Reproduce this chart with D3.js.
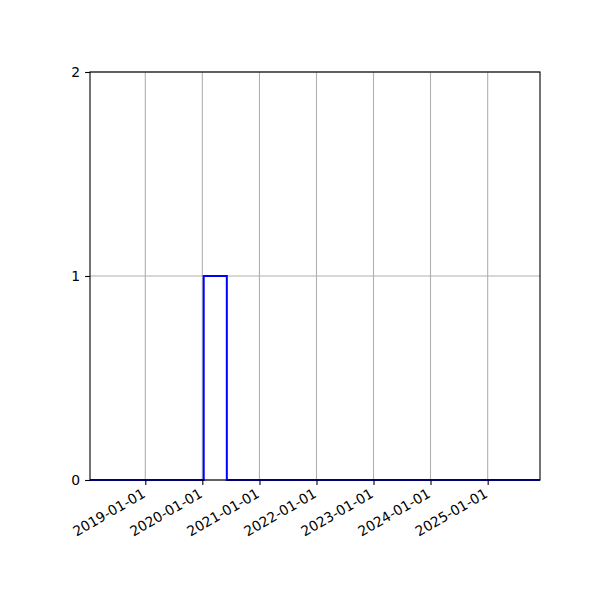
<!DOCTYPE html>
<html>
<head>
<meta charset="utf-8">
<script src="https://cdn.jsdelivr.net/npm/d3@7"></script>
<style>
  body { margin: 0; background: #fff; }
  text { font-family: "DejaVu Sans", sans-serif; font-size: 13.9px; fill: #000; }
</style>
</head>
<body>
<svg id="chart"></svg>
<script>
// step series (value holds until next date)
const stepDates = ["2018-01-12", "2020-01-10", "2020-06-06", "2025-12-02"];
const stepValues = [0, 1, 0, 0];
const xTickLabels = ["2019-01-01", "2020-01-01", "2021-01-01", "2022-01-01",
  "2023-01-01", "2024-01-01", "2025-01-01"];
const yTickValues = [0, 1, 2];

const parse = d3.timeParse("%Y-%m-%d");
const data = stepDates.map((d, i) => ({ date: parse(d), value: stepValues[i] }));

const margin = { top: 72, right: 60, bottom: 120, left: 90 };
const width = 600 - margin.left - margin.right;
const height = 600 - margin.top - margin.bottom;

const svg = d3
  .select("#chart")
  .attr("width", 600)
  .attr("height", 600)
  .append("g")
  .attr("transform", `translate(${margin.left},${margin.top})`);

const xScale = d3
  .scaleTime()
  .domain([data[0].date, data[data.length - 1].date])
  .range([0, width]);

const yScale = d3.scaleLinear().domain([0, 2]).range([height, 0]);

const xTicks = xTickLabels.map(parse);

// grid
svg
  .append("g")
  .selectAll("line")
  .data(xTicks)
  .enter()
  .append("line")
  .attr("x1", (d) => xScale(d))
  .attr("x2", (d) => xScale(d))
  .attr("y1", 0)
  .attr("y2", height)
  .attr("stroke", "#b0b0b0")
  .attr("stroke-width", 1.1);

svg
  .append("g")
  .selectAll("line")
  .data(yTickValues)
  .enter()
  .append("line")
  .attr("x1", 0)
  .attr("x2", width)
  .attr("y1", (d) => yScale(d))
  .attr("y2", (d) => yScale(d))
  .attr("stroke", "#b0b0b0")
  .attr("stroke-width", 1.1);

// step line
const line = d3
  .line()
  .x((d) => xScale(d.date))
  .y((d) => yScale(d.value))
  .curve(d3.curveStepAfter);

svg
  .append("path")
  .datum(data)
  .attr("fill", "none")
  .attr("stroke", "#0000ff")
  .attr("stroke-width", 2)
  .attr("d", line);

// axes
const xAxis = d3
  .axisBottom(xScale)
  .tickValues(xTicks)
  .tickSize(4.9)
  .tickPadding(0)
  .tickFormat(d3.timeFormat("%Y-%m-%d"));

const gx = svg
  .append("g")
  .attr("transform", `translate(0,${height})`)
  .call(xAxis);
gx.select(".domain").remove();
gx.selectAll("line").attr("stroke", "#000").attr("stroke-width", 1.1);
gx.selectAll("text")
  .attr("font-size", null)
  .attr("font-family", null)
  .attr("y", null)
  .attr("dy", -3)
  .attr("text-anchor", "end")
  .attr("transform", "translate(2,19) rotate(-30)");

const yAxis = d3
  .axisLeft(yScale)
  .tickValues(yTickValues)
  .tickSize(4.9)
  .tickPadding(4.9)
  .tickFormat(d3.format("d"));

const gy = svg.append("g").call(yAxis);
gy.select(".domain").remove();
gy.selectAll("line").attr("stroke", "#000").attr("stroke-width", 1.1);
gy.selectAll("text").attr("font-size", null).attr("font-family", null);

// frame
svg
  .append("rect")
  .attr("width", width)
  .attr("height", height)
  .attr("fill", "none")
  .attr("stroke", "#000")
  .attr("stroke-width", 1.1);
</script>
</body>
</html>
